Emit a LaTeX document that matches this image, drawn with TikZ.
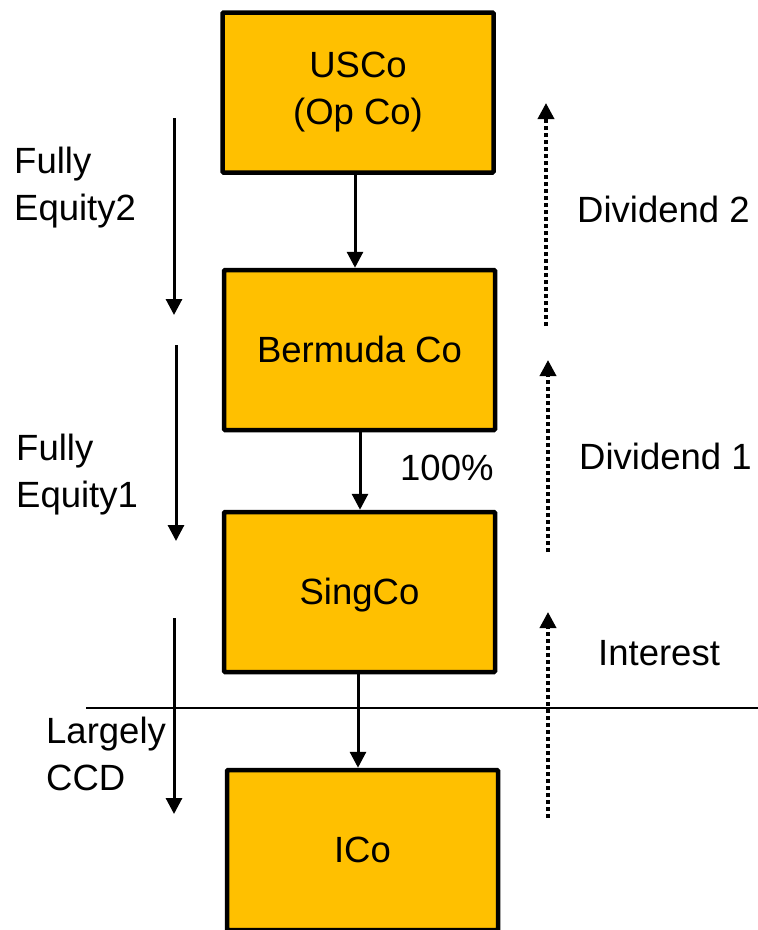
\documentclass[tikz,border=0pt]{standalone}
\usepackage{fontspec}
\setmainfont{Liberation Sans}
\usetikzlibrary{arrows.meta}
\definecolor{amber}{HTML}{FFC000}

\begin{document}
\begin{tikzpicture}[x=1pt,y=-1pt,
  every node/.style={font=\fontsize{36.5}{47}\selectfont},
  firm/.style={draw=black, fill=amber, line width=4.5pt, rounded corners=1pt,
    minimum width=271pt, minimum height=160pt, align=center, inner sep=0pt},
  oneline/.style={text height=25.5pt, text depth=0pt},
  label/.style={inner sep=0pt, align=left},
  conn/.style={line width=3pt, -{Triangle[width=16pt,length=16pt]}},
  flow/.style={line width=3.6pt, dash pattern=on 3.6pt off 3.4pt,
    -{Triangle[width=16pt,length=16pt]}},
  rule/.style={line width=2.8pt}]

  \useasboundingbox (0,0) rectangle (758,930);

  % company boxes
  \node[firm] (usco) at (358,92.5) {USCo\\(Op Co)};
  \node[firm, oneline] (berm) at (359.5,350) {Bermuda Co};
  \node[firm, oneline] (sing) at (359.5,592) {SingCo};
  \node[firm, oneline] (ico)  at (362.5,850) {ICo};

  % ownership chain
  \draw[conn] ([xshift=-3pt]usco.south) -- ([xshift=-4.5pt]berm.north);
  \draw[conn] ([xshift=0.5pt]berm.south) -- ([xshift=0.5pt]sing.north);
  \draw[conn] ([xshift=-1.5pt]sing.south) -- ([xshift=-4.5pt]ico.north);
  \node[label, anchor=base west] (pct) at (400,480) {100\%};

  % border line
  \coordinate (ruleL) at (86,708);
  \coordinate (ruleR) at (758,708);
  \draw[rule] (ruleL) -- (ruleR);

  % funding arrows on the left
  \coordinate (eqtwoA) at (174,118);  \coordinate (eqtwoB) at (174,315);
  \coordinate (eqoneA) at (176,345);  \coordinate (eqoneB) at (176,541);
  \coordinate (ccdA)   at (174,618);  \coordinate (ccdB)   at (174,814);
  \draw[conn] (eqtwoA) -- (eqtwoB);
  \draw[conn] (eqoneA) -- (eqoneB);
  \draw[conn] (ccdA) -- (ccdB);
  \node[label, anchor=north west] (eqtwo) at (14,147) {Fully\\Equity2};
  \node[label, anchor=north west] (eqone) at (16,434) {Fully\\Equity1};
  \node[label, anchor=north west] (ccd)   at (46,717) {Largely\\CCD};

  % returns flowing up on the right
  \coordinate (divtwoA) at (546,326); \coordinate (divtwoB) at (546,103);
  \coordinate (divoneA) at (548,552); \coordinate (divoneB) at (548,360);
  \coordinate (intA)    at (548,818); \coordinate (intB)    at (548,612);
  \draw[flow] (divtwoA) -- (divtwoB);
  \draw[flow] (divoneA) -- (divoneB);
  \draw[flow] (intA) -- (intB);
  \node[label, anchor=base west] (divtwo) at (577,222) {Dividend 2};
  \node[label, anchor=base west] (divone) at (579,469) {Dividend 1};
  \node[label, anchor=base west] (int)    at (598,665) {Interest};
\end{tikzpicture}
\end{document}
